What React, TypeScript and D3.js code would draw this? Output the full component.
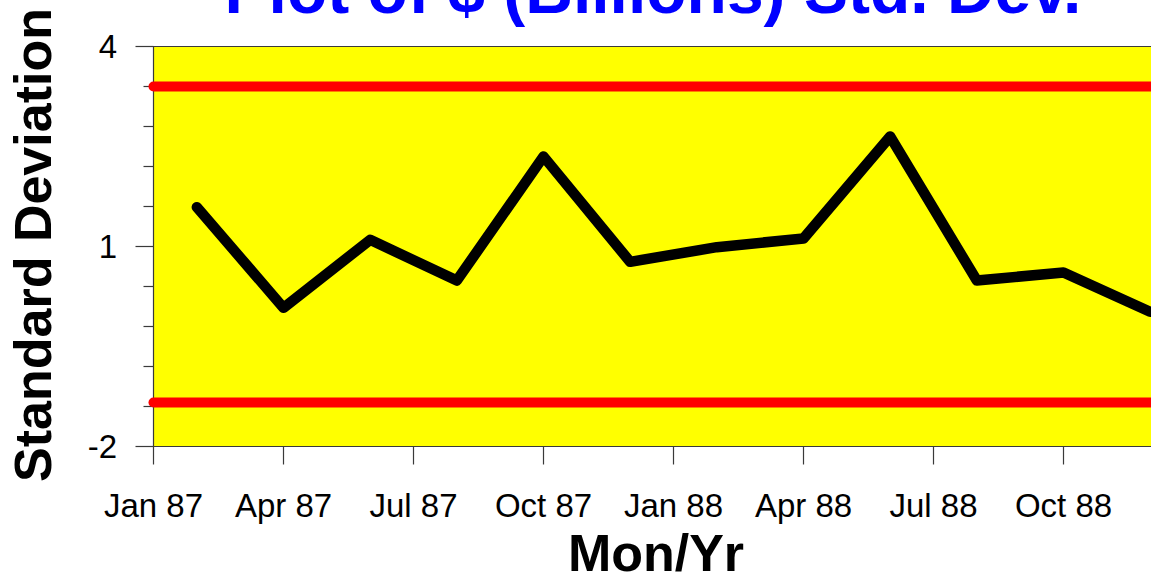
import { useEffect, useRef } from "react";
import * as d3 from "d3";

// chart data
const periods = ["Feb 87", "Apr 87", "Jun 87", "Aug 87", "Oct 87", "Dec 87", "Feb 88", "Apr 88", "Jun 88", "Aug 88", "Oct 88", "Dec 88"];
const stdDev = [1.59, 0.08, 1.1, 0.49, 2.35, 0.77, 0.99, 1.12, 2.65, 0.49, 0.61, 0.02];
const xTickLabels = ["Jan 87", "Apr 87", "Jul 87", "Oct 87", "Jan 88", "Apr 88", "Jul 88", "Oct 88"];
const yMajorTicks = [-2, 1, 4];
const controlLimits = [3.4, -1.34];

const monthNames = ["Jan", "Feb", "Mar", "Apr", "May", "Jun", "Jul", "Aug", "Sep", "Oct", "Nov", "Dec"];
const monthIndex = (label: string) => {
  const [m, y] = label.split(" ");
  return (Number(y) - 87) * 12 + monthNames.indexOf(m);
};

export default function App() {
  const ref = useRef<SVGSVGElement>(null);

  useEffect(() => {
    const width = 1151;
    const height = 578;
    const font = "'Liberation Sans', Arial, sans-serif";
    const left = 153.5, top = 46.5, bottom = 446.5;

    const svg = d3.select(ref.current);
    svg.selectAll("*").remove();
    svg.attr("width", width).attr("height", height).style("font-family", font);

    const x = d3.scaleLinear()
      .domain([monthIndex(xTickLabels[0]), monthIndex(xTickLabels[xTickLabels.length - 1])])
      .range([left, 1063.5]);
    const y = d3.scaleLinear().domain([-2, 4]).range([bottom, top]);
    const right = x(monthIndex("Dec 88")) + 3;

    // plot background
    svg.append("rect")
      .attr("x", left).attr("y", top)
      .attr("width", right - left).attr("height", bottom - top)
      .attr("fill", "#ffff00");

    // axes frame
    svg.append("path")
      .attr("d", `M${right},${top}H${left}V${bottom}H${right}`)
      .attr("fill", "none")
      .attr("stroke", "#3a3a3a")
      .attr("stroke-width", 1.2);

    // y ticks: minor every 0.6, major at labels
    const minor = d3.range(0, 11).map(i => -2 + i * 0.6);
    svg.append("g").selectAll("line")
      .data(minor)
      .join("line")
      .attr("x1", d => (yMajorTicks.some(t => Math.abs(t - d) < 1e-6) ? left - 18 : left - 10))
      .attr("x2", left)
      .attr("y1", d => y(d)).attr("y2", d => y(d))
      .attr("stroke", "#3a3a3a").attr("stroke-width", 1.2);

    svg.append("g").selectAll("text")
      .data(yMajorTicks)
      .join("text")
      .attr("x", 117)
      .attr("y", d => y(d))
      .attr("dy", "0.36em")
      .attr("text-anchor", "end")
      .attr("font-size", 33)
      .attr("fill", "#000")
      .text(d => String(d));

    // x ticks
    const xg = svg.append("g");
    xg.selectAll("line")
      .data(xTickLabels)
      .join("line")
      .attr("x1", d => x(monthIndex(d))).attr("x2", d => x(monthIndex(d)))
      .attr("y1", bottom).attr("y2", bottom + 18)
      .attr("stroke", "#3a3a3a").attr("stroke-width", 1.2);
    xg.selectAll("text")
      .data(xTickLabels)
      .join("text")
      .attr("x", d => x(monthIndex(d)))
      .attr("y", 517)
      .attr("text-anchor", "middle")
      .attr("font-size", 33)
      .attr("fill", "#000")
      .text(d => d);

    // control limits
    svg.append("g").selectAll("line")
      .data(controlLimits)
      .join("line")
      .attr("x1", left).attr("x2", right + 20)
      .attr("y1", d => y(d)).attr("y2", d => y(d))
      .attr("stroke", "#ff0000")
      .attr("stroke-width", 10)
      .attr("stroke-linecap", "round");

    // series
    const line = d3.line<number>()
      .x((_, i) => x(monthIndex(periods[i])))
      .y(d => y(d));
    svg.append("path")
      .attr("d", line(stdDev))
      .attr("fill", "none")
      .attr("stroke", "#000")
      .attr("stroke-width", 10.5)
      .attr("stroke-linejoin", "round")
      .attr("stroke-linecap", "round");

    // titles (the title is cut off at the top in the reference too)
    svg.append("text")
      .attr("x", 653).attr("y", 13)
      .attr("text-anchor", "middle")
      .attr("font-size", 66)
      .attr("font-weight", "bold")
      .attr("fill", "#0000ff")
      .text("Plot of $ (Billions) Std. Dev.");

    svg.append("text")
      .attr("x", 656).attr("y", 571)
      .attr("text-anchor", "middle")
      .attr("font-size", 52)
      .attr("font-weight", "bold")
      .attr("fill", "#000")
      .text("Mon/Yr");

    svg.append("text")
      .attr("transform", "translate(51,245) rotate(-90)")
      .attr("text-anchor", "middle")
      .attr("font-size", 52)
      .attr("font-weight", "bold")
      .attr("fill", "#000")
      .text("Standard Deviation");
  }, []);

  return (
    <svg ref={ref} style={{ position: "absolute", left: 0, top: 0, display: "block", background: "#fff" }} />
  );
}
